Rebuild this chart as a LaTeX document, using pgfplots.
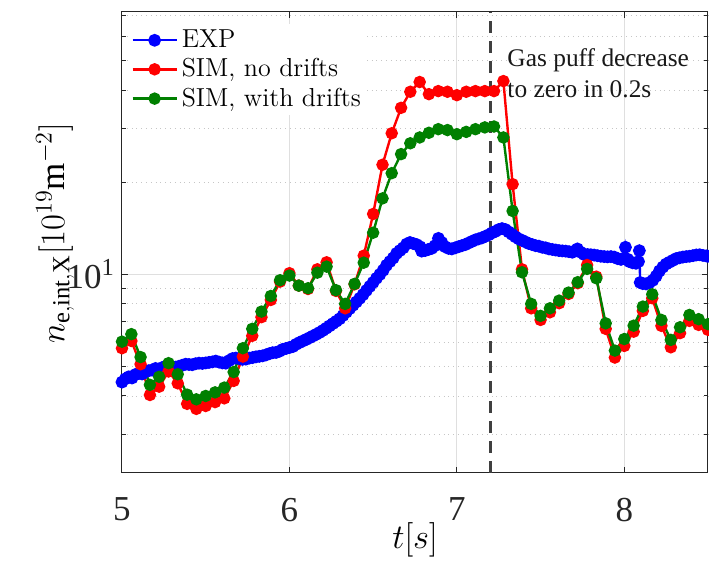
\documentclass[border=0pt]{standalone}
\usepackage{fontspec}
\setmainfont{Liberation Serif}
\newfontfamily\lmfont{Latin Modern Roman}
\usepackage{pgfplots}
\pgfplotsset{compat=1.18}
\definecolor{mgreen}{RGB}{0,128,0}
\definecolor{axgray}{RGB}{38,38,38}
\begin{document}
\begin{tikzpicture}
\begin{semilogyaxis}[
  scale only axis,
  width=293pt, height=230.5pt,
  at={(0,0)}, anchor=south west,
  xmin=5, xmax=8.5, ymin=2.24, ymax=72,
  xtick={5,6,7,8},
  ytick={10}, yticklabels={10\textsuperscript{1}},
  minor ytick={3,4,5,6,7,8,9,20,30,40,50,60,70},
  /pgf/number format/assume math mode=true,
  tick align=inside,
  major tick length=3pt, minor tick length=2pt,
  axis line style={axgray, line width=0.5pt},
  every tick/.style={axgray, line width=0.5pt},
  grid=both,
  major grid style={gray!25, line width=0.5pt},
  minor grid style={gray!45, dotted, line width=0.4pt},
  ticklabel style={font=\fontsize{17.5}{17.5}\selectfont, text=axgray},
  xticklabel style={yshift=-9pt},
  xlabel={$t[s]$},
  ylabel={$n_{\mathrm{e,int,X}}[10^{19}\mathrm{m}^{-2}]$},
  xlabel style={font=\fontsize{17}{17}\selectfont, at={(axis description cs:0.5,-0.145)}, anchor=center},
  ylabel style={font=\fontsize{17.5}{17.5}\selectfont, at={(axis description cs:-0.114,0.52)}, anchor=center},
  legend style={at={(axis description cs:0.012,0.975)}, anchor=north west, draw=none, fill=white,
    font=\lmfont\fontsize{13}{15.5}\selectfont, inner sep=1pt, row sep=0pt,
    /tikz/every even column/.append style={column sep=0pt}},
  legend cell align=left,
  legend image code/.code={\draw[#1, mark repeat=2, mark phase=2] plot coordinates {(0pt,0pt) (11pt,0pt) (22pt,0pt)};},
]
\addplot[blue, line width=1.2pt, mark=*, mark size=2.6pt] coordinates {
(5.00,4.44) (5.02,4.55) (5.04,4.62) (5.06,4.58) (5.08,4.70) (5.10,4.74) (5.12,4.72) (5.14,4.80) (5.16,4.84) (5.18,4.86)
(5.20,4.92) (5.22,4.90) (5.24,4.95) (5.26,5.00) (5.28,5.02) (5.30,4.98) (5.32,4.97) (5.34,5.00) (5.36,5.04) (5.38,5.08)
(5.40,5.07) (5.42,5.06) (5.44,5.10) (5.46,5.12) (5.48,5.11) (5.50,5.13) (5.52,5.15) (5.54,5.17) (5.56,5.20) (5.58,5.16)
(5.60,5.13) (5.62,5.12) (5.64,5.22) (5.66,5.30) (5.68,5.32) (5.70,5.30) (5.72,5.27) (5.74,5.28) (5.76,5.32) (5.78,5.34)
(5.80,5.37) (5.82,5.39) (5.84,5.41) (5.86,5.45) (5.88,5.50) (5.90,5.54) (5.92,5.55) (5.94,5.60) (5.96,5.68) (5.98,5.72)
(6.00,5.76) (6.02,5.80) (6.04,5.90) (6.06,5.98) (6.08,6.05) (6.10,6.12) (6.12,6.20) (6.14,6.28) (6.16,6.36) (6.18,6.45)
(6.20,6.55) (6.22,6.66) (6.24,6.78) (6.26,6.90) (6.28,7.02) (6.30,7.15) (6.32,7.33) (6.34,7.52) (6.36,7.72) (6.38,7.92)
(6.40,8.12) (6.42,8.34) (6.44,8.58) (6.46,8.85) (6.48,9.12) (6.50,9.40) (6.52,9.70) (6.54,9.98) (6.56,10.3) (6.58,10.7)
(6.60,11.0) (6.62,11.3) (6.64,11.7) (6.66,11.95) (6.68,12.2) (6.70,12.55) (6.72,12.7) (6.74,12.6) (6.76,12.5) (6.78,12.3)
(6.79,11.9) (6.81,11.95) (6.83,12.05) (6.85,12.15) (6.87,12.4) (6.89,13.1) (6.91,12.7) (6.93,12.3) (6.95,12.15) (6.97,12.1)
(6.99,12.2) (7.01,12.3) (7.03,12.4) (7.05,12.5) (7.07,12.65) (7.09,12.8) (7.11,12.95) (7.13,13.05) (7.15,13.15) (7.17,13.3)
(7.19,13.45) (7.21,13.65) (7.23,13.8) (7.25,14.0) (7.27,14.1) (7.29,14.0) (7.31,13.75) (7.33,13.5) (7.35,13.25) (7.37,13.05)
(7.39,12.9) (7.41,12.75) (7.43,12.6) (7.45,12.5) (7.47,12.4) (7.49,12.35) (7.51,12.25) (7.53,12.2) (7.55,12.1) (7.57,12.05)
(7.59,12.0) (7.61,11.95) (7.63,11.92) (7.65,11.9) (7.67,11.85) (7.69,11.8) (7.71,11.95) (7.72,12.1) (7.74,11.8) (7.76,11.6)
(7.78,11.6) (7.80,11.58) (7.82,11.55) (7.84,11.5) (7.86,11.45) (7.88,11.42) (7.90,11.4) (7.92,11.42) (7.94,11.38) (7.96,11.25)
(7.98,11.18) (8.00,11.3) (8.007,12.25) (8.02,11.2) (8.03,11.0) (8.05,10.9) (8.07,10.86) (8.085,11.0) (8.09,11.94) (8.095,9.40)
(8.11,9.32) (8.13,9.30) (8.15,9.38) (8.17,9.55) (8.19,9.85) (8.21,10.25) (8.23,10.55) (8.25,10.8) (8.27,10.95) (8.29,11.1)
(8.31,11.25) (8.33,11.32) (8.35,11.38) (8.37,11.42) (8.39,11.45) (8.41,11.5) (8.43,11.56) (8.45,11.58) (8.47,11.52) (8.49,11.48)
(8.50,11.45)
};
\addlegendentry{EXP}
\addplot[red, line width=1.2pt, mark=*, mark size=2.5pt] coordinates {
(5.000,5.73) (5.056,6.05) (5.111,5.08) (5.167,4.03) (5.222,4.29) (5.278,4.81) (5.333,4.40) (5.389,3.77) (5.444,3.63) (5.500,3.71)
(5.556,3.82) (5.611,3.93) (5.667,4.48) (5.722,5.38) (5.778,6.29) (5.833,7.24) (5.889,8.24) (5.944,9.46) (6.000,10.08) (6.056,9.18)
(6.111,8.95) (6.167,10.38) (6.222,10.94) (6.278,8.82) (6.333,7.74) (6.389,9.27) (6.444,11.50) (6.500,15.74) (6.556,22.8) (6.611,28.9)
(6.667,35.0) (6.722,39.5) (6.778,42.5) (6.833,38.8) (6.889,39.7) (6.944,39.5) (7.000,38.5) (7.056,39.5) (7.111,39.7) (7.167,39.7)
(7.222,39.7) (7.278,42.8) (7.333,19.7) (7.389,10.38) (7.444,7.74) (7.500,7.09) (7.556,7.51) (7.611,8.04) (7.667,8.62) (7.722,9.35)
(7.778,10.72) (7.833,9.82) (7.889,6.63) (7.944,5.34) (8.000,5.83) (8.056,6.49) (8.111,7.59) (8.167,8.35) (8.222,6.78) (8.278,5.77)
(8.333,6.42) (8.389,7.04) (8.444,6.83) (8.500,6.58)
};
\addlegendentry{SIM, no drifts}
\addplot[mgreen, line width=1.2pt, mark=*, mark size=2.5pt] coordinates {
(5.000,6.02) (5.056,6.37) (5.111,5.36) (5.167,4.35) (5.222,4.62) (5.278,5.12) (5.333,4.71) (5.389,4.04) (5.444,3.90) (5.500,4.00)
(5.556,4.11) (5.611,4.26) (5.667,4.79) (5.722,5.73) (5.778,6.63) (5.833,7.55) (5.889,8.49) (5.944,9.56) (6.000,9.90) (6.056,9.18)
(6.111,9.00) (6.167,10.12) (6.222,10.59) (6.278,8.87) (6.333,8.00) (6.389,9.30) (6.444,10.91) (6.500,13.67) (6.556,17.7) (6.611,21.4)
(6.667,24.7) (6.722,26.8) (6.778,28.0) (6.833,29.0) (6.889,29.8) (6.944,29.6) (7.000,28.7) (7.056,29.2) (7.111,29.8) (7.167,30.2)
(7.222,30.4) (7.278,28.0) (7.333,16.1) (7.389,10.15) (7.444,8.00) (7.500,7.31) (7.556,7.74) (7.611,8.20) (7.667,8.71) (7.722,9.42)
(7.778,10.41) (7.833,9.70) (7.889,6.91) (7.944,5.63) (8.000,6.14) (8.056,6.79) (8.111,7.84) (8.167,8.60) (8.222,7.09) (8.278,6.10)
(8.333,6.71) (8.389,7.36) (8.444,7.13) (8.500,6.87)
};
\addlegendentry{SIM, with drifts}
\addplot[black!75, line width=1.2pt, dash pattern=on 6pt off 4pt, forget plot] coordinates {(7.2,2.24) (7.2,72)};
\node[anchor=north west, align=left, font=\fontsize{12.7}{15.5}\selectfont, inner sep=0pt, text=black!90]
  at (axis cs:7.30,55) {Gas puff decrease\\to zero in 0.2s};
\end{semilogyaxis}
\pgfresetboundingbox
\path[use as bounding box] (-61pt,-47.5pt) rectangle (293.5pt,236.5pt);
\end{tikzpicture}
\end{document}
